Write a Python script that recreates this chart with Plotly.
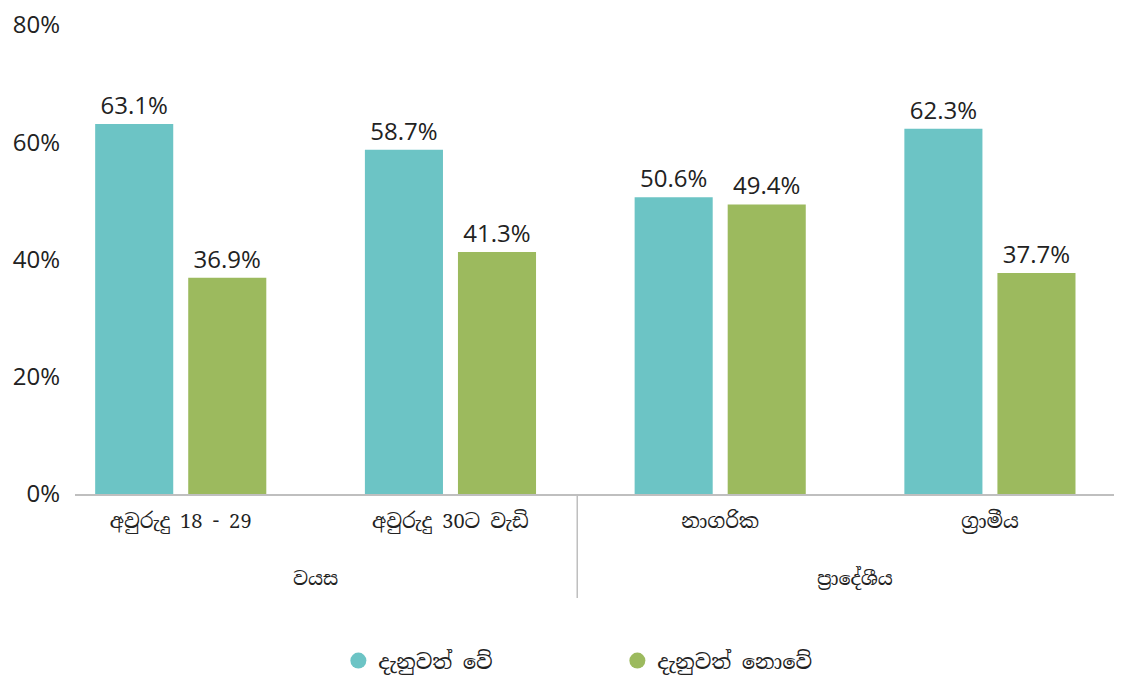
import plotly.graph_objects as go

# Survey categories, grouped into two sets
categories = ["අවුරුදු 18 - 29", "අවුරුදු 30ට වැඩි", "නාගරික", "ග්‍රාමීය"]
group_labels = ["වයස", "ප්‍රාදේශීය"]

# Share of respondents (percent)
aware = [63.1, 58.7, 50.6, 62.3]
not_aware = [36.9, 41.3, 49.4, 37.7]

series_names = ["දැනුවත් වේ", "දැනුවත් නොවේ"]
y_ticks = [0, 20, 40, 60, 80]
y_tick_text = [f"{v}%" for v in y_ticks]

TEAL = "#6cc4c5"
GREEN = "#9cba5e"
AXIS_GREY = "#bfbfbf"
TEXT = "#222222"
NUM_FONT = "Open Sans, Noto Sans, sans-serif"
SIN_FONT = "Noto Serif Sinhala, Noto Sans Sinhala, Iskoola Pota, Liberation Serif, serif"

fig = go.Figure()

for name, vals, color in [(series_names[0], aware, TEAL), (series_names[1], not_aware, GREEN)]:
    fig.add_trace(go.Bar(
        x=categories, y=vals, name=name, marker_color=color,
        marker_line_width=0,
        texttemplate="%{y:.1f}%", textposition="outside",
        textfont=dict(family=NUM_FONT, size=24, color=TEXT),
        cliponaxis=False, showlegend=False,
    ))
    # legend entry drawn as a round dot
    fig.add_trace(go.Scatter(
        x=[None], y=[None], mode="markers", name=name,
        marker=dict(symbol="circle", size=20, color=color),
        showlegend=True,
    ))

# group captions under the category labels
for i, g in enumerate(group_labels):
    fig.add_annotation(
        x=2 * i + 0.5, y=0, xref="x", yref="paper",
        text=g, showarrow=False, yanchor="top", yshift=-70,
        font=dict(family=SIN_FONT, size=19, color=TEXT),
    )

# separator between the two groups
fig.add_shape(type="line", x0=1.47, x1=1.47, xref="x", y0=0, y1=-0.222, yref="paper",
              line=dict(color=AXIS_GREY, width=1.5))

fig.update_layout(
    width=1128, height=676,
    margin=dict(l=75, r=14, t=25, b=182, autoexpand=False),
    plot_bgcolor="white", paper_bgcolor="white",
    barmode="group", bargap=0.31, bargroupgap=0.161,
    legend=dict(orientation="h", x=0.522, xanchor="center", y=-0.356, yanchor="middle",
                font=dict(family=SIN_FONT, size=21, color=TEXT),
                entrywidth=234, itemsizing="trace"),
    xaxis=dict(
        type="category", range=[-0.392, 3.46], automargin=False,
        showline=True, linecolor=AXIS_GREY, linewidth=1.5,
        ticks="", showgrid=False, zeroline=False,
        tickfont=dict(family=SIN_FONT, size=20, color=TEXT),
        ticklabelstandoff=8,
    ),
    yaxis=dict(
        range=[0, 80], tickvals=y_ticks, ticktext=y_tick_text, automargin=False,
        showgrid=False, zeroline=False, showline=False, ticks="",
        tickfont=dict(family=NUM_FONT, size=24, color=TEXT),
        ticklabelstandoff=14,
    ),
)

fig.write_html("out.html")
